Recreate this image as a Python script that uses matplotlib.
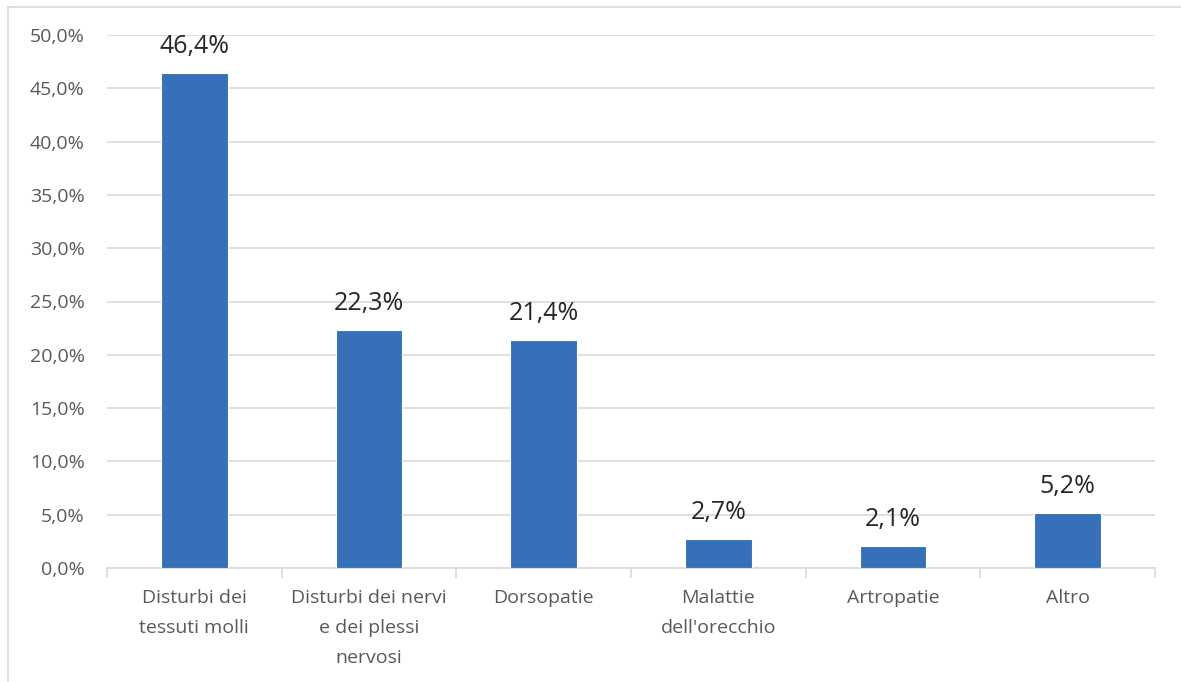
import matplotlib
matplotlib.use("Agg")
import matplotlib.pyplot as plt
from matplotlib.lines import Line2D

categories = ["Disturbi dei\ntessuti molli", "Disturbi dei nervi\ne dei plessi\nnervosi", "Dorsopatie",
              "Malattie\ndell'orecchio", "Artropatie", "Altro"]
values = [46.4, 22.3, 21.4, 2.7, 2.1, 5.2]
labels = ["46,4%", "22,3%", "21,4%", "2,7%", "2,1%", "5,2%"]
yticks = [0, 5, 10, 15, 20, 25, 30, 35, 40, 45, 50]
ytick_labels = ["0,0%", "5,0%", "10,0%", "15,0%", "20,0%", "25,0%", "30,0%", "35,0%", "40,0%", "45,0%", "50,0%"]

plt.rcParams['font.family'] = ['Open Sans', 'DejaVu Sans']

fig = plt.figure(figsize=(11.81, 6.82), dpi=100)
ax = fig.add_axes([107/1181, 1-568/682, (1155-107)/1181, (568-35)/682])

x = list(range(len(categories)))
ax.bar(x, values, width=0.38, color="#3670B9", edgecolor="white", linewidth=0.8, zorder=3)
for xi, v, lab in zip(x, values, labels):
    ax.annotate(lab, (xi, v), xytext=(0, 10), textcoords="offset points",
                ha="center", va="bottom", fontsize=18, color="#262626")

ax.set_xlim(-0.5, len(categories) - 0.5)
ax.set_ylim(0, 50)
ax.set_yticks(yticks)
ax.set_yticklabels(ytick_labels, fontsize=14, color="#595959")
ax.grid(axis="y", color="#d9d9d9", linewidth=1.2, zorder=0)
ax.tick_params(axis="y", length=0, pad=16)

ax.set_xticks(x)
ax.set_xticklabels(categories, fontsize=14, color="#595959", linespacing=1.85, va="top")
ax.tick_params(axis="x", length=0, pad=15)
ax.set_xticks([i - 0.5 for i in range(len(categories) + 1)], minor=True)
ax.tick_params(axis="x", which="minor", length=7, color="#d9d9d9", width=1.2)

for s in ["top", "right", "left"]:
    ax.spines[s].set_visible(False)
ax.spines["bottom"].set_color("#d9d9d9")
ax.spines["bottom"].set_linewidth(1.2)

# outer chart border (top and left visible)
fig.add_artist(Line2D([8/1181, 1], [1-7/682, 1-7/682], transform=fig.transFigure, color="#d9d9d9", linewidth=1.2))
fig.add_artist(Line2D([8/1181, 8/1181], [0, 1-7/682], transform=fig.transFigure, color="#d9d9d9", linewidth=1.2))

fig.savefig("out.png", dpi=100)
